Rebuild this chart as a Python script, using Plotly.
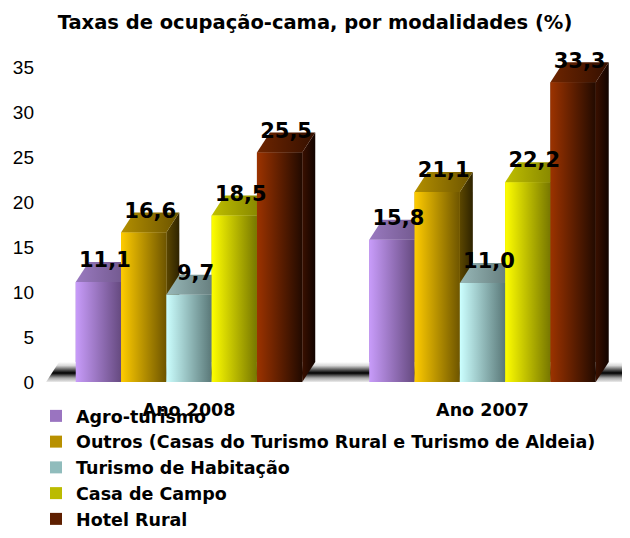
import plotly.graph_objects as go

# ---------------- data ----------------
categories = ["Ano 2008", "Ano 2007"]
series_names = [
    "Agro-turismo",
    "Outros (Casas do Turismo Rural e Turismo de Aldeia)",
    "Turismo de Habitação",
    "Casa de Campo",
    "Hotel Rural",
]
agro_turismo = [11.1, 15.8]
outros = [16.6, 21.1]
turismo_habitacao = [9.7, 11.0]
casa_campo = [18.5, 22.2]
hotel_rural = [25.5, 33.3]
series_values = [agro_turismo, outros, turismo_habitacao, casa_campo, hotel_rural]
y_ticks = [0, 5, 10, 15, 20, 25, 30, 35]
title_text = "Taxas de ocupação-cama, por modalidades (%)"

# ---------------- style ----------------
FRONT = [("#c89cfa", "#664a80"), ("#ffcc00", "#6e5500"), ("#ccffff", "#5a7878"),
         ("#ffff00", "#777700"), ("#9c3300", "#220a00")]
TOP = [("#9a7ac0", "#6a5284"), ("#b38f00", "#6b5300"), ("#98b8b8", "#5a7070"),
       ("#bfbf00", "#7a7a00"), ("#6e2500", "#351000")]
SIDE = [("#5a4070", "#3a2a48"), ("#5c4700", "#2e2300"), ("#4e6666", "#2c3a3a"),
        ("#666600", "#333300"), ("#3a1000", "#120400")]
MID = ["#9a74c0", "#b89000", "#90bcbc", "#bbbb00", "#5e1f00"]

BARGAP = 0.2283
NSER = len(series_names)
BW = (1 - BARGAP) / NSER           # bar width in axis units
DX = 0.0443                        # depth offset (x units)
DY = 2.22                          # depth offset (y units)
FLOOR_LEFT = -0.487
FLOOR_RIGHT = 1.7
XR = [-0.4906, 1.5026]
YR = [0, 37]

W, H = 622, 530   # page adds an 8px body margin

fig = go.Figure()

# bars (front faces through the library; 3D faces drawn over them)
for s in range(NSER):
    fig.add_trace(go.Bar(
        x=[0, 1], y=series_values[s], name=series_names[s],
        marker=dict(color=MID[s], line=dict(width=0)),
        legendgroup=f"g{s}",
    ))

# floor
fig.add_trace(go.Scatter(
    x=[FLOOR_LEFT, FLOOR_RIGHT, FLOOR_RIGHT + DX, FLOOR_LEFT + DX, FLOOR_LEFT],
    y=[0, 0, DY, DY, 0],
    mode="lines", line=dict(width=0), fill="toself",
    fillgradient=dict(type="vertical", colorscale=[
        [0, "#ececec"], [0.2, "#a8a8a8"], [0.45, "#000000"], [0.6, "#505050"],
        [0.82, "#d8d8d8"], [1, "#ffffff"]]),
    showlegend=False, hoverinfo="skip",
))


def poly(xs, ys, c0, c1):
    fig.add_trace(go.Scatter(
        x=xs + [xs[0]], y=ys + [ys[0]], mode="lines", line=dict(width=0),
        fill="toself",
        fillgradient=dict(type="horizontal", colorscale=[[0, c0], [1, c1]]),
        showlegend=False, hoverinfo="skip",
    ))


lab_x, lab_y, lab_t = [], [], []
for g in range(len(categories)):
    for s in range(NSER):
        v = series_values[s][g]
        x0 = g - (1 - BARGAP) / 2 + s * BW
        x1 = x0 + BW
        # side
        poly([x1, x1 + DX, x1 + DX, x1], [0, DY, v + DY, v], *SIDE[s])
        # top
        poly([x0, x1, x1 + DX, x0 + DX], [v, v, v + DY, v + DY], *TOP[s])
        # front
        poly([x0, x1, x1, x0], [0, 0, v, v], *FRONT[s])
        lab_x.append((x0 + x1) / 2 + DX / 2)
        lab_y.append(v + DY)
        lab_t.append(f"{v:.1f}".replace(".", ","))

fig.add_trace(go.Scatter(
    x=lab_x, y=lab_y, text=lab_t, mode="text", textposition="middle center",
    textfont=dict(family="DejaVu Sans", size=21, color="#000000", weight="bold"),
    cliponaxis=False, showlegend=False, hoverinfo="skip",
))

fig.update_layout(
    width=W, height=H,
    margin=dict(l=37, r=0, t=41, b=156, autoexpand=False),
    paper_bgcolor="white", plot_bgcolor="white",
    barmode="group", bargap=BARGAP, bargroupgap=0,
    title=dict(text=title_text, x=307 / W, xref="container", xanchor="center",
               y=1 - 14 / H, yref="container", yanchor="middle",
               font=dict(family="DejaVu Sans", size=19.5, color="#000000", weight="bold")),
    xaxis=dict(range=XR, tickvals=[0, 1], ticktext=categories, showgrid=False,
               zeroline=False, showline=False, ticks="", ticklabelstandoff=15,
               automargin=False,
               tickfont=dict(family="DejaVu Sans", size=17.5, color="#000000", weight="bold")),
    yaxis=dict(range=YR, tickvals=y_ticks, showgrid=False, zeroline=False,
               showline=False, ticks="", ticklabelstandoff=10, automargin=False,
               tickfont=dict(family="Liberation Sans", size=19, color="#000000")),
    legend=dict(x=(28 - 37) / 585, xanchor="left",
                y=-(390 - 374) / 333, yanchor="top",
                bgcolor="rgba(0,0,0,0)", tracegroupgap=5.4, traceorder="normal",
                font=dict(family="DejaVu Sans", size=17.5, color="#000000", weight="bold")),
    showlegend=True,
)

fig.write_html("out.html")
